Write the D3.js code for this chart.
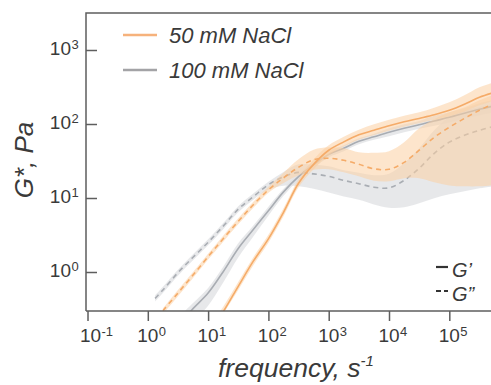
<!DOCTYPE html>
<html><head><meta charset="utf-8">
<script src="https://cdn.jsdelivr.net/npm/d3@7"></script>
<style>
body{margin:0;background:#fff}
svg{display:block}
text{font-family:"Liberation Sans",Arial,Helvetica,sans-serif;fill:#3a3a3a}
</style>
</head><body>
<svg id="c" width="491" height="385"></svg>
<script>
// ---- data ----
const frequency = [1.32, 1.78, 3.16, 5.62, 10, 17.8, 31.6, 56.2, 100, 178, 316, 562, 1000, 1778, 3162, 5623, 10000, 17783, 31623, 56234, 100000, 177828, 316228, 562341];

// 50 mM NaCl
const g1_50    = [null,null,null,null,0.145,0.29,0.64,1.40,2.81,6.41,15.8,28.5,44.2,57.4,71.4,82.2,94.6,107,119,133,153,185,230,268];
const g1_50_lo = [null,null,null,null,0.12,0.27,0.57,1.23,2.48,5.66,14.0,24.4,37.8,49.1,61.1,70.3,80.9,91.6,102,114,127,148,179,209];
const g1_50_hi = [null,null,null,null,0.17,0.34,0.73,1.58,3.18,7.26,17.9,33.3,51.6,67.1,83.6,99.1,114,129,144,166,196,244,313,366];
const g2_50    = [null,0.30,0.52,0.91,1.61,2.82,4.84,8.11,12.9,18.7,26.0,32.8,34.4,32.3,28.5,24.8,24.4,30.3,44.2,66.1,90.2,119,153,191];
const g2_50_lo = [null,0.27,0.47,0.83,1.47,2.57,4.41,7.38,11.8,16.0,20.3,24.0,24.4,22.2,19.6,17.1,16.8,18.5,18.5,16.3,14.8,14.4,14.4,14.9];
const g2_50_hi = [null,0.32,0.57,1.00,1.77,3.10,5.32,8.91,14.2,21.9,33.3,44.8,48.4,46.9,41.4,40.8,42.8,56.5,87.5,116,144,168,209,252];

// 100 mM NaCl
const g1_100    = [null,null,0.19,0.32,0.52,1.01,2.08,3.74,6.73,12.1,19.4,28.2,38.9,47.0,58.3,67.1,77.3,87.5,97.5,110,123,140,158,176];
const g1_100_lo = [null,null,0.11,0.21,0.35,0.72,1.57,3.01,5.75,10.7,17.7,25.7,35.4,42.8,53.1,61.1,68.2,77.3,86.1,94.4,105,119,131,146];
const g1_100_hi = [null,null,0.24,0.38,0.61,1.18,2.44,4.24,7.62,13.3,21.3,31.0,42.8,51.6,64.1,73.8,87.5,99.1,110,129,144,163,191,212];
const g2_100    = [0.44,0.57,0.98,1.58,2.52,4.17,7.06,10.4,15.1,19.3,22.2,21.2,19.6,17.3,15.6,14.0,13.7,17.3,25.2,40.2,56.8,70.3,82.2,93.1];
const g2_100_lo = [0.40,0.52,0.89,1.44,2.29,3.79,6.43,9.5,12.9,14.6,14.4,13.3,11.9,10.5,9.5,8.2,7.4,7.5,8.5,9.9,11.2,12.3,13.5,14.4];
const g2_100_hi = [0.48,0.63,1.07,1.74,2.77,4.58,7.76,11.5,16.6,22.5,28.5,28.1,26.8,23.7,21.9,20.3,21.2,29.4,46.9,82.2,124,150,170,190];

const xTicks = [0.1, 1, 10, 100, 1000, 10000, 100000];
const xTickExp = ["-1", "0", "1", "2", "3", "4", "5"];
const yTicks = [1, 10, 100, 1000];
const yTickExp = ["0", "1", "2", "3"];
const seriesNames = ["50 mM NaCl", "100 mM NaCl"];
const modulusNames = ["G\u2019", "G\u201D"];

// ---- chart ----
const svg = d3.select("#c");
const L = 86, T = 13, B = 311;
const x = d3.scaleLog().domain([Math.pow(10, -1.025), 1e6]).range([L, L + 7.025 * 60.3]);
const y = d3.scaleLog().domain([Math.pow(10, -0.527), Math.pow(10, 3.5)]).range([B, T]);

const cOrange = "#f5ab68", cOrangeBand = "#fbcfa2";
const cGray = "#a9adb3", cGrayBand = "#dfe0e3";

svg.append("clipPath").attr("id", "clip").append("rect")
  .attr("x", L).attr("y", T).attr("width", 500).attr("height", B - T);

function rows(mean, lo, hi) {
  return frequency.map((f, i) => ({f, v: mean[i], lo: lo[i], hi: hi[i]}));
}
const S = {
  g1_50: rows(g1_50, g1_50_lo, g1_50_hi),
  g2_50: rows(g2_50, g2_50_lo, g2_50_hi),
  g1_100: rows(g1_100, g1_100_lo, g1_100_hi),
  g2_100: rows(g2_100, g2_100_lo, g2_100_hi)
};
const curve = d3.curveCatmullRom.alpha(0.5);
const area = d3.area().defined(d => d.v != null)
  .x(d => x(d.f)).y0(d => y(d.lo)).y1(d => y(d.hi)).curve(curve);
const line = d3.line().defined(d => d.v != null)
  .x(d => x(d.f)).y(d => y(d.v)).curve(curve);

const plot = svg.append("g").attr("clip-path", "url(#clip)");
// gray bands + lines
plot.append("path").datum(S.g2_100).attr("d", area).attr("fill", cGrayBand).attr("fill-opacity", 0.75);
plot.append("path").datum(S.g1_100).attr("d", area).attr("fill", cGrayBand).attr("fill-opacity", 0.75);
plot.append("path").datum(S.g2_100).attr("d", line).attr("fill", "none").attr("stroke", cGray)
  .attr("stroke-width", 1.6).attr("stroke-dasharray", "5,4");
plot.append("path").datum(S.g1_100).attr("d", line).attr("fill", "none").attr("stroke", cGray)
  .attr("stroke-width", 1.6);
// orange bands + lines
plot.append("path").datum(S.g2_50).attr("d", area).attr("fill", cOrangeBand).attr("fill-opacity", 0.55);
plot.append("path").datum(S.g1_50).attr("d", area).attr("fill", cOrangeBand).attr("fill-opacity", 0.55);
plot.append("path").datum(S.g2_50).attr("d", line).attr("fill", "none").attr("stroke", cOrange)
  .attr("stroke-width", 1.6).attr("stroke-dasharray", "5,4");
plot.append("path").datum(S.g1_50).attr("d", line).attr("fill", "none").attr("stroke", cOrange)
  .attr("stroke-width", 1.6);

// frame
const axisColor = "#5e5e5e";
svg.append("path").attr("d", `M${L},${B}V${T}H${L + 520}`).attr("fill", "none")
  .attr("stroke", axisColor).attr("stroke-width", 1.5);
svg.append("line").attr("x1", L).attr("x2", L + 520).attr("y1", B).attr("y2", B)
  .attr("stroke", axisColor).attr("stroke-width", 1.5);

// axes (ticks)
const xAxis = svg.append("g").attr("transform", `translate(0,${B})`)
  .call(d3.axisBottom(x).tickValues(xTicks).tickSize(10).tickSizeOuter(0).tickFormat(""));
const yAxis = svg.append("g").attr("transform", `translate(${L},0)`)
  .call(d3.axisLeft(y).tickValues(yTicks).tickSize(-11).tickSizeOuter(0).tickFormat(""));
[xAxis, yAxis].forEach(a => {
  a.select(".domain").remove();
  a.selectAll(".tick line").attr("stroke", axisColor).attr("stroke-width", 1.5);
});

// tick labels with superscripts
const tl = svg.append("g");
xTicks.forEach((v, i) => {
  const cx = x(v) + (i === 0 ? 3 : 0);
  tl.append("text").attr("x", cx).attr("y", 341.5).attr("text-anchor", "middle")
    .attr("font-size", 19).text("10");
  tl.append("text").attr("x", cx + 11).attr("y", 336).attr("font-size", 13).text(xTickExp[i]);
});
yTicks.forEach((v, i) => {
  const cy = y(v) + 4.5;
  tl.append("text").attr("x", 71).attr("y", cy).attr("text-anchor", "end")
    .attr("font-size", 19).text("10");
  tl.append("text").attr("x", 71.5).attr("y", cy - 5.5).attr("font-size", 13).text(yTickExp[i]);
});

// axis titles
const xt = svg.append("text").attr("x", 218).attr("y", 377).attr("font-size", 26.5)
  .attr("font-style", "italic");
xt.append("tspan").text("frequency, s");
xt.append("tspan").attr("font-size", 15).attr("dy", -11).text("-1");

svg.append("text").attr("transform", "translate(33,160) rotate(-90)")
  .attr("text-anchor", "middle").attr("font-size", 26).attr("font-style", "italic")
  .text("G*, Pa");

// series legend
const legColors = ["#f6b27c", "#a3a3a6"];
seriesNames.forEach((n, i) => {
  const ly = 35 + i * 35;
  svg.append("line").attr("x1", 123).attr("x2", 157).attr("y1", ly).attr("y2", ly)
    .attr("stroke", legColors[i]).attr("stroke-width", 2.5);
  svg.append("text").attr("x", 169).attr("y", ly + 8).attr("font-size", 22)
    .attr("font-style", "italic").text(n);
});

// modulus legend
modulusNames.forEach((n, i) => {
  const ly = 267 + i * 24;
  svg.append("line").attr("x1", 436).attr("x2", 448).attr("y1", ly).attr("y2", ly)
    .attr("stroke", "#333").attr("stroke-width", 2.2)
    .attr("stroke-dasharray", i === 1 ? "5,3" : null);
  svg.append("text").attr("x", 452).attr("y", ly + 9.5).attr("font-size", 20)
    .attr("font-style", "italic").text(n);
});
</script>
</body></html>
